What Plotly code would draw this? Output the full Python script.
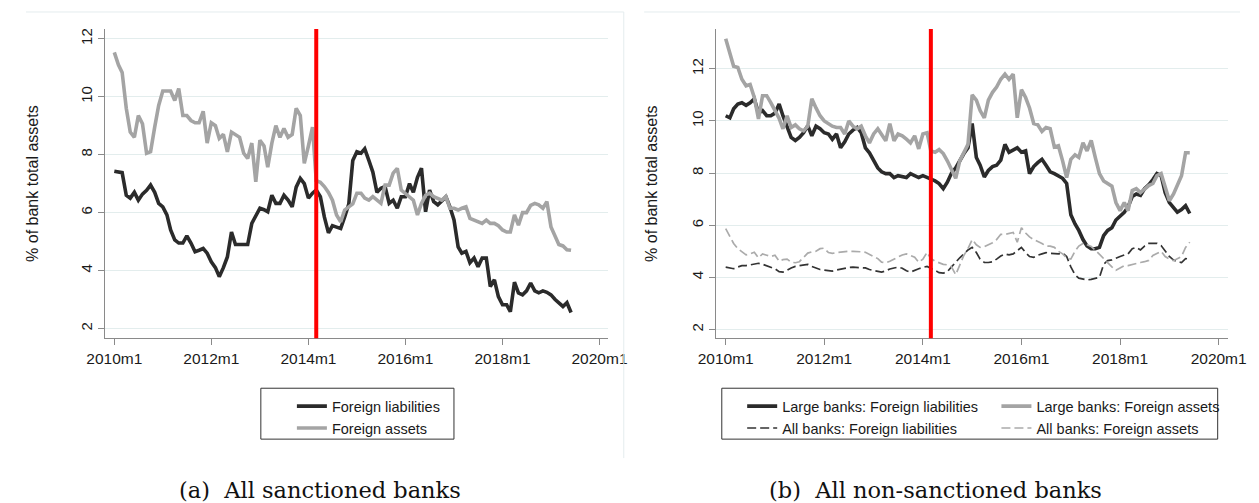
import pandas as pd
import plotly.graph_objects as go

# Monthly data, 2010m1 .. 2019m6, % of bank total assets
months = pd.date_range("2010-01-01", periods=114, freq="MS")

sanction_month = "2014-03-01"
tick_dates = ["2010-01-01", "2012-01-01", "2014-01-01",
              "2016-01-01", "2018-01-01", "2020-01-01"]
tick_labels = ["2010m1", "2012m1", "2014m1", "2016m1", "2018m1", "2020m1"]
y_ticks = [2, 4, 6, 8, 10, 12]

# (a) All sanctioned banks
sanct_liab = [
    7.43, 7.40, 7.38, 6.60, 6.50, 6.70, 6.43, 6.64, 6.77, 6.95, 6.70, 6.32,
    6.20, 5.92, 5.40, 5.06, 4.95, 4.95, 5.20, 4.95, 4.65, 4.70, 4.76, 4.60,
    4.30, 4.10, 3.79, 4.10, 4.47, 5.33, 4.90, 4.90, 4.90, 4.90, 5.63, 5.92,
    6.15, 6.10, 6.03, 6.60, 6.32, 6.32, 6.60, 6.43, 6.20, 6.88, 7.18, 7.00,
    6.50, 6.67, 6.78, 6.55, 5.85, 5.30, 5.55, 5.50, 5.45, 5.85, 6.30, 7.80,
    8.10, 8.05, 8.20, 7.80, 7.40, 6.70, 6.84, 6.90, 6.32, 6.43, 6.15, 6.55,
    6.55, 7.00, 6.70, 7.22, 7.53, 6.03, 6.78, 6.38, 6.27, 6.40, 6.55, 6.20,
    5.75, 4.82, 4.60, 4.66, 4.27, 4.43, 4.13, 4.43, 4.43, 3.45, 3.68, 3.10,
    2.82, 2.82, 2.58, 3.60, 3.23, 3.16, 3.30, 3.57, 3.30, 3.23, 3.30, 3.25,
    3.16, 3.00, 2.90, 2.76, 2.89, 2.55,
]
sanct_assets = [
    11.53, 11.10, 10.84, 9.60, 8.78, 8.60, 9.35, 9.07, 8.05, 8.10, 8.95, 9.70,
    10.20, 10.20, 10.20, 9.87, 10.28, 9.35, 9.35, 9.18, 9.10, 9.10, 9.50, 8.40,
    9.10, 9.00, 8.56, 8.70, 8.10, 8.78, 8.70, 8.60, 8.05, 7.87, 8.40, 7.06,
    8.50, 8.30, 7.57, 8.40, 9.00, 8.60, 8.90, 8.60, 8.70, 9.60, 9.35, 7.70,
    8.30, 8.95, 7.10, 7.05, 6.90, 6.70, 6.43, 5.92, 5.68, 6.09, 6.20, 6.30,
    6.67, 6.67, 6.50, 6.43, 6.55, 6.43, 6.32, 6.95, 6.95, 7.36, 7.53, 6.78,
    6.67, 6.55, 6.43, 5.92, 6.32, 6.60, 6.67, 6.55, 6.50, 6.43, 6.55, 6.15,
    6.15, 6.09, 6.15, 6.20, 5.80, 5.74, 5.70, 5.63, 5.74, 5.63, 5.63, 5.55,
    5.40, 5.33, 5.33, 5.92, 5.57, 6.00, 6.00, 6.25, 6.32, 6.27, 6.15, 6.38,
    5.50, 5.20, 4.90, 4.85, 4.72, 4.70,
]

# (b) All non-sanctioned banks
large_liab = [
    10.20, 10.12, 10.47, 10.65, 10.70, 10.60, 10.70, 10.85, 10.30, 10.40, 10.20, 10.20,
    10.30, 10.65, 10.20, 9.82, 9.37, 9.25, 9.37, 9.55, 9.82, 9.43, 9.80, 9.70,
    9.55, 9.50, 9.30, 9.50, 8.97, 9.20, 9.50, 9.65, 9.75, 9.55, 8.97, 8.78,
    8.50, 8.20, 8.05, 7.98, 7.98, 7.83, 7.90, 7.85, 7.83, 7.98, 7.90, 7.83,
    7.90, 7.83, 7.80, 7.70, 7.60, 7.40, 7.65, 8.00, 8.20, 8.50, 8.75, 8.97,
    9.90, 8.60, 8.30, 7.85, 8.10, 8.25, 8.30, 8.50, 9.10, 8.80, 8.90, 8.97,
    8.80, 8.85, 7.98, 8.25, 8.40, 8.53, 8.30, 8.05, 7.98, 7.90, 7.80, 7.60,
    6.40, 6.05, 5.80, 5.45, 5.20, 5.10, 5.10, 5.15, 5.60, 5.80, 5.90, 6.20,
    6.35, 6.50, 6.70, 7.10, 7.20, 7.15, 7.40, 7.55, 7.75, 7.98, 7.90, 7.25,
    6.87, 6.68, 6.50, 6.60, 6.75, 6.45,
]
large_assets = [
    13.15, 12.60, 12.10, 12.05, 11.60, 11.35, 11.40, 10.90, 10.08, 10.97, 10.97, 10.70,
    10.40, 10.10, 9.70, 10.20, 9.75, 9.85, 9.70, 9.62, 9.80, 10.85, 10.50, 10.20,
    10.00, 9.90, 9.80, 9.75, 9.75, 9.50, 10.00, 9.80, 9.70, 9.80, 9.43, 9.16,
    9.50, 9.70, 9.50, 9.24, 9.90, 9.24, 9.50, 9.43, 9.30, 9.16, 9.43, 8.93,
    9.50, 9.55, 8.85, 8.80, 8.90, 8.75, 8.47, 8.10, 7.80, 8.47, 8.80, 9.10,
    11.00, 10.80, 10.40, 10.12, 10.80, 11.10, 11.30, 11.60, 11.80, 11.60, 11.80, 10.12,
    11.20, 10.90, 10.50, 9.90, 9.85, 9.60, 9.75, 9.70, 9.00, 9.05, 8.47, 7.83,
    8.53, 8.70, 8.60, 9.16, 8.85, 9.25, 8.60, 7.98, 7.70, 7.60, 7.50, 6.87,
    6.56, 6.87, 6.56, 7.33, 7.40, 7.25, 7.40, 7.52, 7.60, 7.90, 7.98, 7.52,
    6.94, 7.20, 7.52, 7.90, 8.78, 8.78,
]
all_liab = [
    4.39, 4.35, 4.33, 4.40, 4.45, 4.45, 4.48, 4.52, 4.54, 4.50, 4.45, 4.40,
    4.33, 4.22, 4.20, 4.27, 4.36, 4.42, 4.45, 4.48, 4.50, 4.42, 4.35, 4.30,
    4.28, 4.26, 4.24, 4.28, 4.32, 4.35, 4.38, 4.39, 4.38, 4.37, 4.36, 4.30,
    4.27, 4.22, 4.20, 4.25, 4.32, 4.36, 4.39, 4.35, 4.25, 4.20, 4.28, 4.33,
    4.38, 4.42, 4.35, 4.27, 4.18, 4.16, 4.22, 4.40, 4.60, 4.75, 4.90, 5.05,
    5.15, 4.95, 4.70, 4.57, 4.57, 4.60, 4.70, 4.82, 4.90, 4.86, 4.90, 5.03,
    5.15, 4.95, 4.80, 4.77, 4.85, 4.90, 4.95, 4.92, 4.90, 4.90, 4.93, 4.80,
    4.40, 4.10, 3.97, 3.93, 3.90, 3.92, 3.95, 4.00, 4.50, 4.64, 4.67, 4.72,
    4.80, 4.86, 4.90, 5.10, 5.15, 5.05, 5.20, 5.30, 5.30, 5.30, 5.22, 5.00,
    4.80, 4.66, 4.60, 4.57, 4.72, 4.70,
]
all_assets = [
    5.87, 5.55, 5.30, 5.10, 4.98, 4.86, 4.90, 4.96, 4.75, 4.90, 4.85, 4.80,
    4.85, 4.62, 4.68, 4.70, 4.58, 4.56, 4.60, 4.78, 4.93, 4.98, 5.00, 5.10,
    5.12, 4.95, 4.92, 4.95, 4.97, 5.00, 5.00, 5.00, 5.00, 4.98, 4.96, 4.88,
    4.78, 4.72, 4.58, 4.56, 4.62, 4.70, 4.80, 4.86, 4.90, 4.85, 4.77, 4.58,
    4.70, 4.96, 4.72, 4.62, 4.55, 4.50, 4.48, 4.40, 4.10, 4.50, 4.85, 5.10,
    5.45, 5.25, 5.15, 5.18, 5.25, 5.33, 5.45, 5.65, 5.65, 5.68, 5.72, 5.35,
    5.90, 5.70, 5.55, 5.45, 5.38, 5.30, 5.20, 5.20, 5.15, 5.00, 4.90, 4.75,
    4.70, 5.00, 5.20, 5.30, 5.25, 5.18, 5.05, 4.88, 4.72, 4.55, 4.40, 4.27,
    4.35, 4.45, 4.45, 4.50, 4.52, 4.57, 4.60, 4.65, 4.84, 4.92, 5.00, 4.80,
    4.70, 4.64, 4.72, 4.80, 5.15, 5.35,
]

# The page has an 8px body margin, so the figure is made that much smaller
# and positions below are given in page pixels.
OFF = 8
W, H = 1259 - OFF, 503 - OFF


def fx(p):
    return (p - OFF) / W


def fy(p):
    return 1 - (p - OFF) / H


DARK = "#2b2b2b"
GREY = "#a4a4a4"
AXIS = "#8a8a8a"
GRID = "#e3eded"
TXT = "#1a1a1a"

fig = go.Figure()

# Panel (a)
fig.add_trace(go.Scatter(x=months, y=sanct_liab, name="Foreign liabilities",
                         mode="lines", line=dict(color=DARK, width=3.6),
                         xaxis="x", yaxis="y", legend="legend"))
fig.add_trace(go.Scatter(x=months, y=sanct_assets, name="Foreign assets",
                         mode="lines", line=dict(color=GREY, width=3.6),
                         xaxis="x", yaxis="y", legend="legend"))

# Panel (b)
fig.add_trace(go.Scatter(x=months, y=large_liab, name="Large banks: Foreign liabilities",
                         mode="lines", line=dict(color=DARK, width=3.6),
                         xaxis="x2", yaxis="y2", legend="legend2"))
fig.add_trace(go.Scatter(x=months, y=large_assets, name="Large banks: Foreign assets",
                         mode="lines", line=dict(color=GREY, width=3.6),
                         xaxis="x2", yaxis="y2", legend="legend3"))
fig.add_trace(go.Scatter(x=months, y=all_liab, name="All banks: Foreign liabilities",
                         mode="lines", line=dict(color="#333333", width=1.7, dash="9px,4px"),
                         xaxis="x2", yaxis="y2", legend="legend2"))
fig.add_trace(go.Scatter(x=months, y=all_assets, name="All banks: Foreign assets",
                         mode="lines", line=dict(color="#ababab", width=1.7, dash="9px,4px"),
                         xaxis="x2", yaxis="y2", legend="legend3"))

xcommon = dict(type="date", tickvals=tick_dates, ticktext=tick_labels,
               showgrid=False, zeroline=False, showline=True, linecolor=AXIS,
               ticks="outside", ticklen=6, tickcolor=AXIS,
               tickfont=dict(size=15.5, color=TXT))
ycommon = dict(tickvals=y_ticks, tickangle=-90, showgrid=True, gridcolor=GRID,
               zeroline=False, showline=True, linecolor=AXIS,
               ticks="outside", ticklen=6, tickcolor=AXIS,
               tickfont=dict(size=15, color=TXT))
ytitle = "% of bank total assets"
ytitle_font = dict(size=16, color=TXT)

legcommon = dict(xanchor="left", yanchor="top", bgcolor="rgba(0,0,0,0)",
                 font=dict(size=14.5, color=TXT), orientation="v",
                 tracegroupgap=0)

fig.update_layout(
    width=W, height=H,
    margin=dict(l=0, r=0, t=0, b=0),
    paper_bgcolor="white", plot_bgcolor="white",
    font=dict(family="Liberation Sans, Arial, sans-serif"),
    xaxis=dict(xcommon, domain=[fx(89), fx(608)],
               range=["2009-10-20", "2020-03-07"], anchor="y"),
    yaxis=dict(ycommon, domain=[fy(338), fy(28)], range=[1.66, 12.34], anchor="x",
               title=dict(text=ytitle, font=ytitle_font, standoff=34)),
    xaxis2=dict(xcommon, domain=[fx(719), fx(1247)],
                range=["2009-10-21", "2020-03-13"], anchor="y2"),
    yaxis2=dict(ycommon, domain=[fy(338), fy(28)], range=[1.66, 13.53], anchor="x2",
                title=dict(text=ytitle, font=ytitle_font, standoff=27)),
    legend=dict(legcommon, x=fx(282), y=fy(390)),
    legend2=dict(legcommon, x=fx(746), y=fy(390)),
    legend3=dict(legcommon, x=fx(1008), y=fy(390)),
)

# Sanctions month marker
for xa, ya in [("x", "y"), ("x2", "y2")]:
    fig.add_shape(type="line", xref=xa, yref=f"{ya} domain",
                  x0=sanction_month, x1=sanction_month, y0=0, y1=1,
                  line=dict(color="#ff0000", width=4), layer="above")

# Legend boxes
fig.add_shape(type="rect", xref="paper", yref="paper",
              x0=fx(250), x1=fx(449), y0=fy(439), y1=fy(388),
              line=dict(color="#333333", width=1))
fig.add_shape(type="rect", xref="paper", yref="paper",
              x0=fx(725), x1=fx(1236), y0=fy(439), y1=fy(388),
              line=dict(color="#333333", width=1))

# Faint graph-region borders
for x0, x1 in [(8, 624), (645, 1259)]:
    fig.add_shape(type="line", xref="paper", yref="paper",
                  x0=fx(x0), x1=fx(x1), y0=fy(11), y1=fy(11),
                  line=dict(color="#e4ecee", width=1))
fig.add_shape(type="line", xref="paper", yref="paper",
              x0=fx(624), x1=fx(624), y0=fy(11), y1=fy(458),
              line=dict(color="#e4ecee", width=1))

# Captions
cap_font = dict(family="DejaVu Serif, Liberation Serif, serif", size=22.5, color="#111111")
fig.add_annotation(text="(a)  All sanctioned banks", x=fx(311), y=fy(490),
                   xref="paper", yref="paper", xanchor="center", yanchor="middle",
                   showarrow=False, font=cap_font)
fig.add_annotation(text="(b)  All non-sanctioned banks", x=fx(945), y=fy(490),
                   xref="paper", yref="paper", xanchor="center", yanchor="middle",
                   showarrow=False, font=cap_font)

fig.write_html("out.html")
